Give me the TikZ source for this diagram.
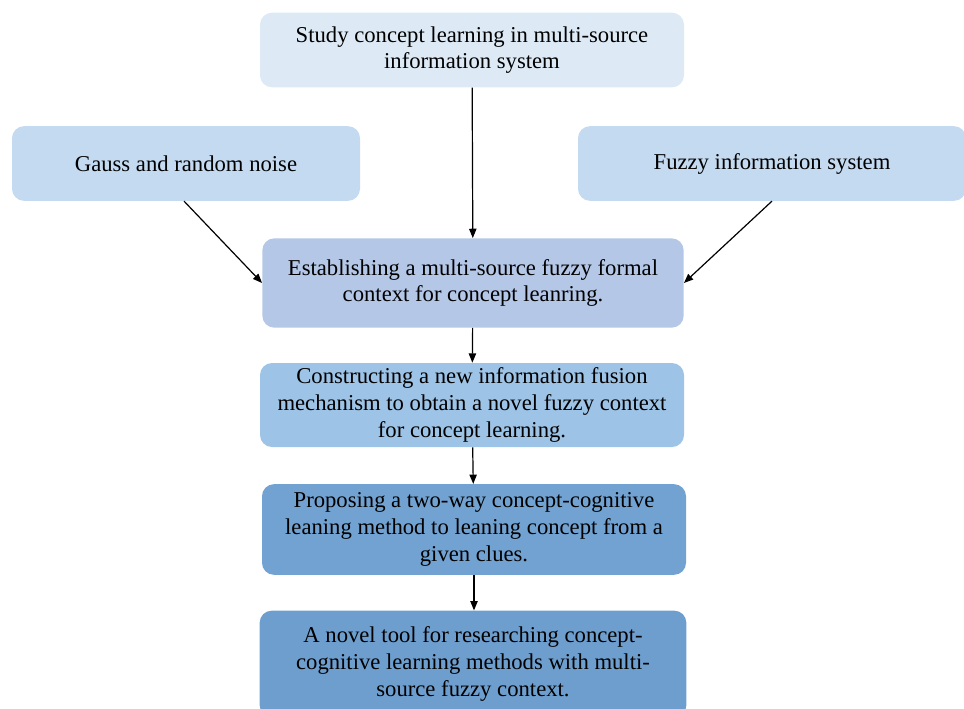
\documentclass[tikz,border=0pt]{standalone}
\usepackage{fontspec}
\setmainfont{Liberation Serif}
\usepackage{xcolor}
\usetikzlibrary{arrows.meta}

\definecolor{topblue}{HTML}{DDEAF6}
\definecolor{sideblue}{HTML}{C4DAF0}
\definecolor{estblue}{HTML}{B4C7E7}
\definecolor{fuseblue}{HTML}{9DC3E6}
\definecolor{propblue}{HTML}{71A2D1}
\definecolor{toolblue}{HTML}{6D9ECE}

\begin{document}
\begin{tikzpicture}[
  x=0.75pt, y=-0.75pt,
  every node/.style={font=\fontsize{17}{20}\selectfont},
  stage/.style={rounded corners=9pt, align=center, inner sep=2pt},
  flow/.style={-{Triangle[length=7pt,width=5.5pt]}, line width=0.9pt}
]
\useasboundingbox (0,0) rectangle (964,708);
\clip (0,0) rectangle (964,708);

\node[stage, fill=topblue, minimum width=318pt, minimum height=56pt] (study) at (472,50) {Study concept learning in multi-source\\information system};
\node[stage, fill=sideblue, minimum width=261pt, minimum height=56pt] (noise) at (186,163.5) {Gauss and random noise};
\node[stage, fill=sideblue, minimum width=291pt, minimum height=56pt] (fuzzy) at (772,163.5) {Fuzzy information system};
\node[stage, fill=estblue, minimum width=316pt, minimum height=67pt] (establish) at (473,283) {Establishing a multi-source fuzzy formal\\context for concept leanring.};
\node[stage, fill=fuseblue, minimum width=318pt, minimum height=63pt] (fusion) at (472,405) {Constructing a new information fusion\\mechanism to obtain a novel fuzzy context\\for concept learning.};
\node[stage, fill=propblue, minimum width=318pt, minimum height=68pt] (propose) at (474,529.5) {Proposing a two-way concept-cognitive\\leaning method to leaning concept from a\\given clues.};
\node[stage, fill=toolblue, minimum width=320pt, minimum height=80pt] (tool) at (473,664) {A novel tool for researching concept-\\cognitive learning methods with multi-\\source fuzzy context.};

\draw[flow] (study) -- (establish);
\draw[flow] (noise.south) ++(-2,0) -- (establish.west);
\draw[flow] (fuzzy.south) -- (establish.east);
\draw[flow] (establish) -- (fusion);
\draw[flow] (fusion) -- (propose);
\draw[flow] (propose) -- (tool.north -| propose.south);
\end{tikzpicture}
\end{document}
